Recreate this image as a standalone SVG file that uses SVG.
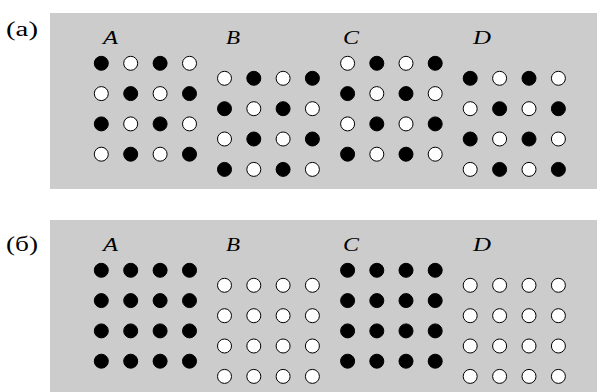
<svg xmlns="http://www.w3.org/2000/svg" width="598" height="392" viewBox="0 0 598 392">
  <style>
    .panel { fill: #cccccc; }
    .tag { font-family: "Liberation Serif", "Times New Roman", serif; font-size: 20px; fill: #000; }
    .name { font-family: "Liberation Serif", "Times New Roman", serif; font-size: 19px; font-style: italic; fill: #000; }
    .on { fill: #000; stroke: #000; stroke-width: 1; }
    .off { fill: #fff; stroke: #000; stroke-width: 1; }
  </style>
  <defs>
    <circle id="b" r="7" class="on"/>
    <circle id="w" r="7" class="off"/>
  </defs>

  <!-- panel (a): checkerboard patterns -->
  <g id="panel-a">
    <rect class="panel" x="50" y="13" width="547" height="176"/>
    <text class="tag" x="6" y="36" textLength="32" lengthAdjust="spacingAndGlyphs">(а)</text>
    <text class="name" x="103" y="43.5" textLength="15" lengthAdjust="spacingAndGlyphs">A</text>
    <text class="name" x="226" y="43.5" textLength="14" lengthAdjust="spacingAndGlyphs">B</text>
    <text class="name" x="343" y="43.5" textLength="16" lengthAdjust="spacingAndGlyphs">C</text>
    <text class="name" x="473" y="43.5" textLength="18" lengthAdjust="spacingAndGlyphs">D</text>

    <g id="a-A">
      <use href="#b" x="101.3" y="63.3"/><use href="#w" x="130.7" y="63.3"/><use href="#b" x="160.1" y="63.3"/><use href="#w" x="189.5" y="63.3"/>
      <use href="#w" x="101.3" y="93.6"/><use href="#b" x="130.7" y="93.6"/><use href="#w" x="160.1" y="93.6"/><use href="#b" x="189.5" y="93.6"/>
      <use href="#b" x="101.3" y="123.9"/><use href="#w" x="130.7" y="123.9"/><use href="#b" x="160.1" y="123.9"/><use href="#w" x="189.5" y="123.9"/>
      <use href="#w" x="101.3" y="154.2"/><use href="#b" x="130.7" y="154.2"/><use href="#w" x="160.1" y="154.2"/><use href="#b" x="189.5" y="154.2"/>
    </g>
    <g id="a-B">
      <use href="#w" x="224.5" y="78.3"/><use href="#b" x="253.8" y="78.3"/><use href="#w" x="283.1" y="78.3"/><use href="#b" x="312.4" y="78.3"/>
      <use href="#b" x="224.5" y="108.7"/><use href="#w" x="253.8" y="108.7"/><use href="#b" x="283.1" y="108.7"/><use href="#w" x="312.4" y="108.7"/>
      <use href="#w" x="224.5" y="139"/><use href="#b" x="253.8" y="139"/><use href="#w" x="283.1" y="139"/><use href="#b" x="312.4" y="139"/>
      <use href="#b" x="224.5" y="169.4"/><use href="#w" x="253.8" y="169.4"/><use href="#b" x="283.1" y="169.4"/><use href="#w" x="312.4" y="169.4"/>
    </g>
    <g id="a-C">
      <use href="#w" x="347.6" y="63.3"/><use href="#b" x="376.8" y="63.3"/><use href="#w" x="406" y="63.3"/><use href="#b" x="435.2" y="63.3"/>
      <use href="#b" x="347.6" y="93.6"/><use href="#w" x="376.8" y="93.6"/><use href="#b" x="406" y="93.6"/><use href="#w" x="435.2" y="93.6"/>
      <use href="#w" x="347.6" y="123.9"/><use href="#b" x="376.8" y="123.9"/><use href="#w" x="406" y="123.9"/><use href="#b" x="435.2" y="123.9"/>
      <use href="#b" x="347.6" y="154.2"/><use href="#w" x="376.8" y="154.2"/><use href="#b" x="406" y="154.2"/><use href="#w" x="435.2" y="154.2"/>
    </g>
    <g id="a-D">
      <use href="#b" x="470.2" y="78.3"/><use href="#w" x="499.6" y="78.3"/><use href="#b" x="529" y="78.3"/><use href="#w" x="558.4" y="78.3"/>
      <use href="#w" x="470.2" y="108.7"/><use href="#b" x="499.6" y="108.7"/><use href="#w" x="529" y="108.7"/><use href="#b" x="558.4" y="108.7"/>
      <use href="#b" x="470.2" y="139"/><use href="#w" x="499.6" y="139"/><use href="#b" x="529" y="139"/><use href="#w" x="558.4" y="139"/>
      <use href="#w" x="470.2" y="169.4"/><use href="#b" x="499.6" y="169.4"/><use href="#w" x="529" y="169.4"/><use href="#b" x="558.4" y="169.4"/>
    </g>
  </g>

  <!-- panel (б): uniform patterns -->
  <g id="panel-b">
    <rect class="panel" x="50" y="220" width="547" height="172"/>
    <text class="tag" x="6" y="251" textLength="32" lengthAdjust="spacingAndGlyphs">(б)</text>
    <text class="name" x="103" y="250.5" textLength="15" lengthAdjust="spacingAndGlyphs">A</text>
    <text class="name" x="226" y="250.5" textLength="14" lengthAdjust="spacingAndGlyphs">B</text>
    <text class="name" x="343" y="250.5" textLength="16" lengthAdjust="spacingAndGlyphs">C</text>
    <text class="name" x="473" y="250.5" textLength="18" lengthAdjust="spacingAndGlyphs">D</text>

    <g id="b-A">
      <use href="#b" x="101.3" y="270.3"/><use href="#b" x="130.7" y="270.3"/><use href="#b" x="160.1" y="270.3"/><use href="#b" x="189.5" y="270.3"/>
      <use href="#b" x="101.3" y="300.6"/><use href="#b" x="130.7" y="300.6"/><use href="#b" x="160.1" y="300.6"/><use href="#b" x="189.5" y="300.6"/>
      <use href="#b" x="101.3" y="330.9"/><use href="#b" x="130.7" y="330.9"/><use href="#b" x="160.1" y="330.9"/><use href="#b" x="189.5" y="330.9"/>
      <use href="#b" x="101.3" y="361.2"/><use href="#b" x="130.7" y="361.2"/><use href="#b" x="160.1" y="361.2"/><use href="#b" x="189.5" y="361.2"/>
    </g>
    <g id="b-B">
      <use href="#w" x="224.5" y="285.3"/><use href="#w" x="253.8" y="285.3"/><use href="#w" x="283.1" y="285.3"/><use href="#w" x="312.4" y="285.3"/>
      <use href="#w" x="224.5" y="315.7"/><use href="#w" x="253.8" y="315.7"/><use href="#w" x="283.1" y="315.7"/><use href="#w" x="312.4" y="315.7"/>
      <use href="#w" x="224.5" y="346"/><use href="#w" x="253.8" y="346"/><use href="#w" x="283.1" y="346"/><use href="#w" x="312.4" y="346"/>
      <use href="#w" x="224.5" y="376.4"/><use href="#w" x="253.8" y="376.4"/><use href="#w" x="283.1" y="376.4"/><use href="#w" x="312.4" y="376.4"/>
    </g>
    <g id="b-C">
      <use href="#b" x="347.6" y="270.3"/><use href="#b" x="376.8" y="270.3"/><use href="#b" x="406" y="270.3"/><use href="#b" x="435.2" y="270.3"/>
      <use href="#b" x="347.6" y="300.6"/><use href="#b" x="376.8" y="300.6"/><use href="#b" x="406" y="300.6"/><use href="#b" x="435.2" y="300.6"/>
      <use href="#b" x="347.6" y="330.9"/><use href="#b" x="376.8" y="330.9"/><use href="#b" x="406" y="330.9"/><use href="#b" x="435.2" y="330.9"/>
      <use href="#b" x="347.6" y="361.2"/><use href="#b" x="376.8" y="361.2"/><use href="#b" x="406" y="361.2"/><use href="#b" x="435.2" y="361.2"/>
    </g>
    <g id="b-D">
      <use href="#w" x="470.2" y="285.3"/><use href="#w" x="499.6" y="285.3"/><use href="#w" x="529" y="285.3"/><use href="#w" x="558.4" y="285.3"/>
      <use href="#w" x="470.2" y="315.7"/><use href="#w" x="499.6" y="315.7"/><use href="#w" x="529" y="315.7"/><use href="#w" x="558.4" y="315.7"/>
      <use href="#w" x="470.2" y="346"/><use href="#w" x="499.6" y="346"/><use href="#w" x="529" y="346"/><use href="#w" x="558.4" y="346"/>
      <use href="#w" x="470.2" y="376.4"/><use href="#w" x="499.6" y="376.4"/><use href="#w" x="529" y="376.4"/><use href="#w" x="558.4" y="376.4"/>
    </g>
  </g>
</svg>
